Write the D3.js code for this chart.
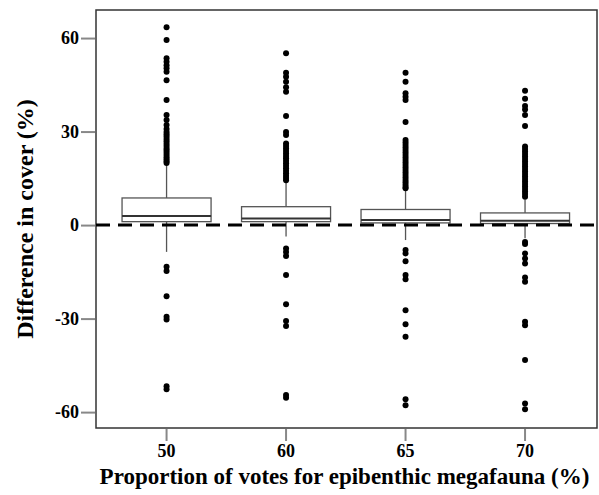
<!DOCTYPE html>
<html>
<head>
<meta charset="utf-8">
<script src="https://cdn.jsdelivr.net/npm/d3@7"></script>
<style>
  body { margin: 0; background: #fff; }
  text { font-family: "Liberation Serif", "DejaVu Serif", serif; font-weight: bold; fill: #000; }
</style>
</head>
<body>
<div id="chart"></div>
<script>
// box plot: difference in cover by vote threshold
var categories = ["50", "60", "65", "70"];
var lowerWhisker = [-8.6, -3.7, -4.8, -4.2];
var q1 = [1.1, 1.1, 0.7, 0.5];
var medians = [2.9, 2.1, 1.6, 1.4];
var q3 = [8.7, 5.9, 5.0, 3.9];
var upperWhisker = [19.3, 13.9, 11.2, 8.2];
var outliers = [
  [63.5, 59.4, 53.5, 52.4, 51.3, 50.3, 49.2, 46.5, 40.1, 35.3, 33.7, 32.1, 30.8, 29.9, 29.1, 28.4,
   27.6, 26.9, 26.1, 25.4, 24.6, 23.9, 23.2, 22.5, 21.8, 21.1, 20.5, 19.9,
   -13.4, -14.7, -22.8, -29.4, -30.3, -51.7, -52.7],
  [55.1, 48.9, 47.6, 46.0, 44.2, 42.8, 35.0, 29.9, 28.9, 26.2, 25.4, 24.6, 23.8, 23.0, 22.2,
   21.4, 20.6, 19.8, 19.0, 18.2, 17.4, 16.6, 15.8, 15.1, 14.4,
   -7.5, -8.6, -9.9, -16.0, -25.4, -30.8, -32.4, -54.5, -55.4],
  [48.9, 46.0, 42.3, 41.2, 40.1, 33.1, 27.3, 26.5, 25.7, 24.9, 24.1, 23.3, 22.5, 21.7, 20.9,
   20.1, 19.3, 18.5, 17.7, 16.9, 16.1, 15.3, 14.5, 13.7, 12.9, 12.2, 11.8,
   -8.0, -9.1, -11.6, -16.0, -17.4, -27.3, -31.8, -35.8, -55.9, -57.8],
  [43.1, 40.5, 38.2, 37.1, 35.3, 31.8, 25.2, 24.4, 23.6, 22.8, 22.0, 21.2, 20.4, 19.6, 18.8,
   18.0, 17.2, 16.4, 15.6, 14.8, 14.0, 13.2, 12.4, 11.6, 10.8, 10.0, 9.1,
   -5.4, -6.1, -9.1, -10.7, -12.3, -16.8, -18.2, -31.0, -32.1, -43.3, -57.2, -59.1]
];
var yTicks = [-60, -30, 0, 30, 60];

var width = 599, height = 495;
var margin = {top: 10, right: 2, bottom: 67, left: 96};

var svg = d3.select("#chart").append("svg")
    .attr("width", width)
    .attr("height", height);

var x = d3.scaleBand()
    .domain(categories)
    .range([margin.left, 595.6])
    .paddingInner(0.255)
    .paddingOuter(0.218);

var y = d3.scaleLinear()
    .domain([-65.1, 69])
    .range([height - margin.bottom, margin.top]);

var plotW = width - margin.right - margin.left;
var plotH = height - margin.bottom - margin.top;

// axes
var yAxis = svg.append("g")
    .attr("transform", "translate(" + (margin.left - 1) + ",0)")
    .call(d3.axisLeft(y).tickValues(yTicks).tickSize(14).tickPadding(2)
      .tickFormat(function(d){ return String(d); }));
yAxis.select(".domain").remove();
yAxis.selectAll("line").attr("stroke", "#888").attr("stroke-width", 2);
yAxis.selectAll("text").style("font-size", "18px").style("font-family", "Liberation Serif").style("font-weight", "bold");

var xAxis = svg.append("g")
    .attr("transform", "translate(0," + (height - margin.bottom + 1) + ")")
    .call(d3.axisBottom(x).tickSize(12).tickPadding(3));
xAxis.select(".domain").remove();
xAxis.selectAll("line").attr("stroke", "#888").attr("stroke-width", 2);
xAxis.selectAll("text").style("font-size", "18px").style("font-family", "Liberation Serif").style("font-weight", "bold");

// frame
svg.append("rect")
    .attr("x", margin.left)
    .attr("y", margin.top)
    .attr("width", plotW)
    .attr("height", plotH)
    .attr("fill", "none")
    .attr("stroke", "#333")
    .attr("stroke-width", 1.5);

var boxes = svg.selectAll(".box")
    .data(categories)
    .enter().append("g")
    .attr("class", "box");

// whiskers
boxes.append("line")
    .attr("x1", function(d){ return x(d) + x.bandwidth() / 2; })
    .attr("x2", function(d){ return x(d) + x.bandwidth() / 2; })
    .attr("y1", function(d, i){ return y(lowerWhisker[i]); })
    .attr("y2", function(d, i){ return y(upperWhisker[i]); })
    .attr("stroke", "#555")
    .attr("stroke-width", 1.3);

boxes.append("rect")
    .attr("x", function(d){ return x(d); })
    .attr("width", x.bandwidth())
    .attr("y", function(d, i){ return y(q3[i]); })
    .attr("height", function(d, i){ return y(q1[i]) - y(q3[i]); })
    .attr("fill", "#fff")
    .attr("stroke", "#555")
    .attr("stroke-width", 1.3);

boxes.append("line")
    .attr("x1", function(d){ return x(d); })
    .attr("x2", function(d){ return x(d) + x.bandwidth(); })
    .attr("y1", function(d, i){ return y(medians[i]); })
    .attr("y2", function(d, i){ return y(medians[i]); })
    .attr("stroke", "#333")
    .attr("stroke-width", 2);

// outliers
boxes.each(function(d, i){
  d3.select(this).selectAll("circle")
    .data(outliers[i])
    .enter().append("circle")
    .attr("cx", x(d) + x.bandwidth() / 2)
    .attr("cy", function(v){ return y(v); })
    .attr("r", 3)
    .attr("fill", "#000");
});

// zero reference line
svg.append("line")
    .attr("x1", margin.left)
    .attr("x2", width - margin.right)
    .attr("y1", y(0))
    .attr("y2", y(0))
    .attr("stroke", "#000")
    .attr("stroke-width", 3)
    .attr("stroke-dasharray", "14,8");

// titles
svg.append("text")
    .attr("transform", "translate(33," + (margin.top + plotH / 2) + ") rotate(-90)")
    .attr("text-anchor", "middle")
    .style("font-size", "24px")
    .text("Difference in cover (%)");

svg.append("text")
    .attr("x", margin.left + plotW / 2 - 2)
    .attr("y", 484)
    .attr("text-anchor", "middle")
    .style("font-size", "23px")
    .text("Proportion of votes for epibenthic megafauna (%)");
</script>
</body>
</html>
